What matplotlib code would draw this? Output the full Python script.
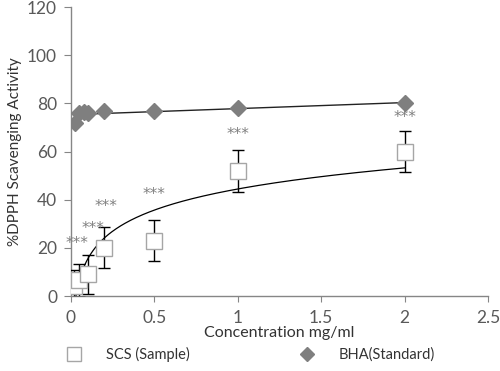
import matplotlib
matplotlib.use("Agg")
import matplotlib.pyplot as plt
from matplotlib.lines import Line2D
import numpy as np

plt.rcParams["font.family"] = ["Lato", "DejaVu Sans"]

# ── data ──────────────────────────────────────────────────────────────────────
conc = [0.02, 0.05, 0.1, 0.2, 0.5, 1.0, 2.0]
scs_mean = [4, 6.5, 9, 20, 23, 52, 60]
scs_err = [7, 7, 8, 8.5, 8.5, 8.7, 8.5]

bha_conc = [0.025, 0.05, 0.075, 0.1, 0.2, 0.5, 1.0, 2.0]
bha_mean = [72, 76, 76.5, 76, 77, 77, 78, 80]

# "***" significance labels (anchor positions in data units)
star_x = [0.035, 0.13, 0.21, 0.5, 1.0, 2.0]
star_y = [22, 28, 37, 42, 67, 74]

GREY_TXT = "#595959"
GREY_AX = "#868686"

fig = plt.figure(figsize=(5.0, 3.71), dpi=100)
ax = fig.add_axes([0.142, 0.202, 0.834, 0.779])

# trend lines (Excel style: log fit for sample, linear for standard)
a, b = np.polyfit(np.log(conc), scs_mean, 1)
xs = np.linspace(conc[0], conc[-1], 300)
ax.plot(xs, a * np.log(xs) + b, color="black", lw=0.9, zorder=3)

m, c = np.polyfit(bha_conc, bha_mean, 1)
xl = np.array([bha_conc[1], bha_conc[-1]])
ax.plot(xl, m * xl + c, color="#222222", lw=1.0, zorder=3)

# series
ax.errorbar(conc, scs_mean, yerr=scs_err, fmt="none", ecolor="black",
            elinewidth=1.0, capsize=4, capthick=1.0, zorder=4)
ax.plot(conc, scs_mean, ls="none", marker="s", ms=11, mfc="white",
        mec="#a6a6a6", mew=1.0, zorder=5)
ax.plot(bha_conc, bha_mean, ls="none", marker="D", ms=8, mfc="#7f7f7f",
        mec="#7f7f7f", zorder=5)

for sx, sy in zip(star_x, star_y):
    ax.text(sx, sy, "***", ha="center", va="center", fontsize=11,
            color="#808080", zorder=6, family="DejaVu Sans")

ax.set_xlim(0, 2.5)
ax.set_ylim(0, 120)
ax.set_xticks([0, 0.5, 1, 1.5, 2, 2.5])
ax.set_xticklabels(["0", "0.5", "1", "1.5", "2", "2.5"])
ax.set_yticks(range(0, 121, 20))

for side in ["top", "right"]:
    ax.spines[side].set_visible(False)
for side in ["left", "bottom"]:
    ax.spines[side].set_color(GREY_AX)
    ax.spines[side].set_linewidth(1.0)
ax.tick_params(axis="x", colors=GREY_AX, labelcolor=GREY_TXT, labelsize=12.5,
               length=4, pad=6)
ax.tick_params(axis="y", colors=GREY_AX, labelcolor=GREY_TXT, labelsize=12.5,
               length=5, pad=5)

ax.set_xlabel("Concentration mg/ml", fontsize=11.5, color="#333333",
              labelpad=0)
ax.set_ylabel("%DPPH Scavenging Activity", fontsize=11, color="#333333",
              labelpad=4)

handles = [
    Line2D([0], [0], ls="none", marker="s", ms=10, mfc="white",
           mec="#a6a6a6", label="SCS (Sample)"),
    Line2D([0], [0], ls="none", marker="D", ms=7, mfc="#7f7f7f",
           mec="#7f7f7f", label="BHA(Standard)"),
]
leg = fig.legend(handles=handles, loc="center", ncol=2,
                 bbox_to_anchor=(0.495, 0.045), frameon=False,
                 fontsize=10.5, columnspacing=7.0, handletextpad=1.2)
for t in leg.get_texts():
    t.set_color("#333333")

fig.savefig("out.png", dpi=100)
